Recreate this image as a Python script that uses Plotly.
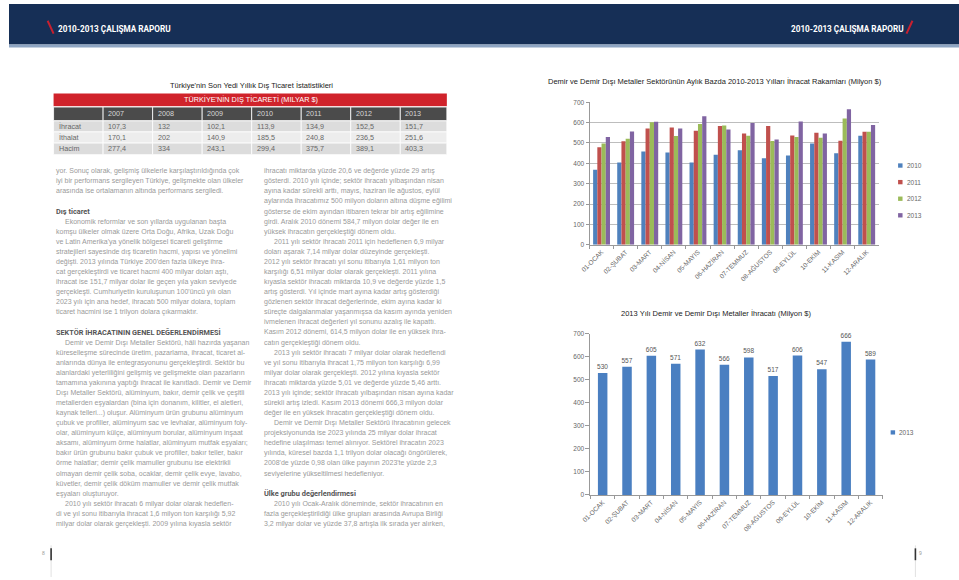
import plotly.graph_objects as go

W, H = 959, 580

# ---------------- data ----------------
months = ["01-OCAK", "02-ŞUBAT", "03-MART", "04-NİSAN", "05-MAYIS", "06-HAZİRAN",
          "07-TEMMUZ", "08-AĞUSTOS", "09-EYLÜL", "10-EKİM", "11-KASIM", "12-ARALIK"]
exp2010 = [368, 404, 458, 453, 404, 442, 464, 425, 438, 498, 450, 536]
exp2011 = [479, 508, 571, 576, 560, 583, 547, 583, 537, 550, 511, 555]
exp2012 = [498, 521, 602, 534, 593, 586, 536, 510, 529, 526, 620, 555]
exp2013 = [530, 557, 605, 571, 632, 566, 598, 517, 606, 547, 666, 589]
series_names = ["2010", "2011", "2012", "2013"]
yticks = [0, 100, 200, 300, 400, 500, 600, 700]

table_years = ["2007", "2008", "2009", "2010", "2011", "2012", "2013"]
table_rows = ["İhracat", "İthalat", "Hacim"]
ihracat = ["107,3", "132", "102,1", "113,9", "134,9", "152,5", "151,7"]
ithalat = ["170,1", "202", "140,9", "185,5", "240,8", "236,5", "251,6"]
hacim = ["277,4", "334", "243,1", "299,4", "375,7", "389,1", "403,3"]

left_text = [
    ("t", "yor. Sonuç olarak, gelişmiş ülkelerle karşılaştırıldığında çok"),
    ("t", "iyi bir performans sergileyen Türkiye, gelişmekte olan ülkeler"),
    ("t", "arasında ise ortalamanın altında performans sergiledi."),
    ("b", ""),
    ("h", "Dış ticaret"),
    ("i", "Ekonomik reformlar ve son yıllarda uygulanan başta"),
    ("t", "komşu ülkeler olmak üzere Orta Doğu, Afrika, Uzak Doğu"),
    ("t", "ve Latin Amerika'ya yönelik bölgesel ticareti geliştirme"),
    ("t", "stratejileri sayesinde dış ticaretin hacmi, yapısı ve yönelimi"),
    ("t", "değişti. 2013 yılında Türkiye 200'den fazla ülkeye ihra-"),
    ("t", "cat gerçekleştirdi ve ticaret hacmi 400 milyar doları aştı,"),
    ("t", "ihracat ise 151,7 milyar dolar ile geçen yıla yakın seviyede"),
    ("t", "gerçekleşti. Cumhuriyetin kuruluşunun 100'üncü yılı olan"),
    ("t", "2023 yılı için ana hedef, ihracatı 500 milyar dolara, toplam"),
    ("t", "ticaret hacmini ise 1 trilyon dolara çıkarmaktır."),
    ("b", ""),
    ("H", "SEKTÖR İHRACATININ GENEL DEĞERLENDİRMESİ"),
    ("i", "Demir ve Demir Dışı Metaller Sektörü, hâli hazırda yaşanan"),
    ("t", "küreselleşme sürecinde üretim, pazarlama, ihracat, ticaret al-"),
    ("t", "anlarında dünya ile entegrasyonunu gerçekleştirdi. Sektör bu"),
    ("t", "alanlardaki yeterliliğini gelişmiş ve gelişmekte olan pazarların"),
    ("t", "tamamına yakınına yaptığı ihracat ile kanıtladı. Demir ve Demir"),
    ("t", "Dışı Metaller Sektörü, alüminyum, bakır, demir çelik ve çeşitli"),
    ("t", "metallerden eşyalardan (bina için donanım, kilitler, el aletleri,"),
    ("t", "kaynak telleri...) oluşur. Alüminyum ürün grubunu alüminyum"),
    ("t", "çubuk ve profiller, alüminyum sac ve levhalar, alüminyum foly-"),
    ("t", "olar, alüminyum külçe, alüminyum borular, alüminyum inşaat"),
    ("t", "aksamı, alüminyum örme halatlar, alüminyum mutfak eşyaları;"),
    ("t", "bakır ürün grubunu bakır çubuk ve profiller, bakır teller, bakır"),
    ("t", "örme halatlar; demir çelik mamuller grubunu ise elektrikli"),
    ("t", "olmayan demir çelik soba, ocaklar, demir çelik evye, lavabo,"),
    ("t", "küvetler, demir çelik döküm mamuller ve demir çelik mutfak"),
    ("t", "eşyaları oluşturuyor."),
    ("i", "2010 yılı sektör ihracatı 6 milyar dolar olarak hedeflen-"),
    ("t", "di ve yıl sonu itibarıyla ihracat 1,6 milyon ton karşılığı 5,92"),
    ("t", "milyar dolar olarak gerçekleşti. 2009 yılına kıyasla sektör"),
]

mid_text = [
    ("t", "ihracatı miktarda yüzde 20,6 ve değerde yüzde 29 artış"),
    ("t", "gösterdi. 2010 yılı içinde; sektör ihracatı yılbaşından nisan"),
    ("t", "ayına kadar sürekli arttı, mayıs, haziran ile ağustos, eylül"),
    ("t", "aylarında ihracatımız 500 milyon doların altına düşme eğilimi"),
    ("t", "gösterse de ekim ayından itibaren tekrar bir artış eğilimine"),
    ("t", "girdi. Aralık 2010 dönemi 584,7 milyon dolar değer ile en"),
    ("t", "yüksek ihracatın gerçekleştiği dönem oldu."),
    ("i", "2011 yılı sektör ihracatı 2011 için hedeflenen 6,9 milyar"),
    ("t", "doları aşarak 7,14 milyar dolar düzeyinde gerçekleşti."),
    ("t", "2012 yılı sektör ihracatı yıl sonu itibarıyla 1,61 milyon ton"),
    ("t", "karşılığı 6,51 milyar dolar olarak gerçekleşti. 2011 yılına"),
    ("t", "kıyasla sektör ihracatı miktarda 10,9 ve değerde yüzde 1,5"),
    ("t", "artış gösterdi. Yıl içinde mart ayına kadar artış gösterdiği"),
    ("t", "gözlenen sektör ihracat değerlerinde, ekim ayına kadar ki"),
    ("t", "süreçte dalgalanmalar yaşanmışsa da kasım ayında yeniden"),
    ("t", "ivmelenen ihracat değerleri yıl sonunu azalış ile kapattı."),
    ("t", "Kasım 2012 dönemi, 614,5 milyon dolar ile en yüksek ihra-"),
    ("t", "catın gerçekleştiği dönem oldu."),
    ("i", "2013 yılı sektör ihracatı 7 milyar dolar olarak hedeflendi"),
    ("t", "ve yıl sonu itibarıyla ihracat 1,75 milyon ton karşılığı 6,99"),
    ("t", "milyar dolar olarak gerçekleşti. 2012 yılına kıyasla sektör"),
    ("t", "ihracatı miktarda yüzde 5,01 ve değerde yüzde 5,46 arttı."),
    ("t", "2013 yılı içinde; sektör ihracatı yılbaşından nisan ayına kadar"),
    ("t", "sürekli artış izledi. Kasım 2013 dönemi 666,3 milyon dolar"),
    ("t", "değer ile en yüksek ihracatın gerçekleştiği dönem oldu."),
    ("i", "Demir ve Demir Dışı Metaller Sektörü ihracatının gelecek"),
    ("t", "projeksiyonunda ise 2023 yılında 25 milyar dolar ihracat"),
    ("t", "hedefine ulaşılması temel alınıyor. Sektörel ihracatın 2023"),
    ("t", "yılında, küresel bazda 1,1 trilyon dolar olacağı öngörülerek,"),
    ("t", "2008'de yüzde 0,98 olan ülke payının 2023'te yüzde 2,3"),
    ("t", "seviyelerine yükseltilmesi hedefleniyor."),
    ("b", ""),
    ("h", "Ülke grubu değerlendirmesi"),
    ("i", "2010 yılı Ocak-Aralık döneminde, sektör ihracatının en"),
    ("t", "fazla gerçekleştirildiği ülke grupları arasında Avrupa Birliği"),
    ("t", "3,2 milyar dolar ve yüzde 37,8 artışla ilk sırada yer alırken,"),
]

# ---------------- styles ----------------
COLORS = ["#4F81BD", "#C0504D", "#9BBB59", "#8064A2"]
BAR2013 = "#4A7FC1"
BODY_FONT = "Liberation Sans, Arial, sans-serif"
COND_FONT = "Roboto, Liberation Sans, sans-serif"
TXT_GRAY = "#9a9a9a"
AX_GRAY = "#666666"


def fx(p):
    return p / W


def fy(p):
    return 1 - p / H


fig = go.Figure()

# top grouped bar chart
for name, vals, col in zip(series_names, [exp2010, exp2011, exp2012, exp2013], COLORS):
    fig.add_trace(go.Bar(x=months, y=vals, name=name, marker_color=col,
                         marker_line_width=0, showlegend=False,
                         xaxis="x", yaxis="y"))

# bottom 2013 bar chart
fig.add_trace(go.Bar(x=months, y=exp2013, name="2013", marker_color=BAR2013,
                     marker_line_width=0, showlegend=False,
                     text=[str(v) for v in exp2013], textposition="outside",
                     constraintext="none", cliponaxis=False,
                     textfont=dict(size=6.5, color="#555555", family=BODY_FONT),
                     xaxis="x2", yaxis="y2", width=0.39))

tickfont = dict(size=6.5, color=AX_GRAY, family=BODY_FONT)

shapes = []
annotations = []

# header band
shapes.append(dict(type="rect", xref="paper", yref="paper", x0=0, x1=1,
                   y0=fy(41), y1=1, fillcolor="#162f56", line_width=0, layer="below"))
shapes.append(dict(type="rect", xref="paper", yref="paper", x0=0, x1=1,
                   y0=fy(44), y1=fy(41), fillcolor="#8ea5c3", line_width=0, layer="below"))
shapes.append(dict(type="line", xref="paper", yref="paper", x0=fx(39), x1=fx(45),
                   y0=fy(17), y1=fy(30), line=dict(color="#c8202f", width=2)))
shapes.append(dict(type="line", xref="paper", yref="paper", x0=fx(906), x1=fx(912),
                   y0=fy(30), y1=fy(17), line=dict(color="#c8202f", width=2)))
annotations.append(dict(x=fx(47), y=fy(25), xref="paper", yref="paper", xanchor="left",
                        yanchor="middle", showarrow=False,
                        text="<b>2010-2013 ÇALIŞMA RAPORU</b>",
                        font=dict(size=8.2, color="white", family=COND_FONT)))
annotations.append(dict(x=fx(905), y=fy(25), xref="paper", yref="paper", xanchor="right",
                        yanchor="middle", showarrow=False,
                        text="<b>2010-2013 ÇALIŞMA RAPORU</b>",
                        font=dict(size=8.2, color="white", family=COND_FONT)))

# table
annotations.append(dict(x=fx(245), y=fy(82), xref="paper", yref="paper", xanchor="center",
                        yanchor="middle", showarrow=False,
                        text="Türkiye'nin Son Yedi Yıllık Dış Ticaret İstatistikleri",
                        font=dict(size=7.5, color="#222222", family=BODY_FONT)))
shapes.append(dict(type="rect", xref="paper", yref="paper", x0=fx(45), x1=fx(442),
                   y0=fy(103.5), y1=fy(90.5), fillcolor="#d0232b", line_width=0))
annotations.append(dict(x=fx(244), y=fy(97), xref="paper", yref="paper", xanchor="center",
                        yanchor="middle", showarrow=False,
                        text="TÜRKİYE'NİN DIŞ TİCARETİ (MILYAR $)",
                        font=dict(size=7.3, color="white", family=BODY_FONT)))
col_edges = [45, 95, 145, 195, 245, 295, 345, 395, 442]
row_edges = [104.3, 118.3, 129.5, 140.8, 152.5]
row_fills = ["#4b4b4b", "#dcdcdc", "#ededed", "#dcdcdc"]
row_cells = [[""] + table_years,
             [table_rows[0]] + ihracat,
             [table_rows[1]] + ithalat,
             [table_rows[2]] + hacim]
for r in range(4):
    for c in range(8):
        shapes.append(dict(type="rect", xref="paper", yref="paper",
                           x0=fx(col_edges[c]), x1=fx(col_edges[c + 1]),
                           y0=fy(row_edges[r + 1]), y1=fy(row_edges[r]),
                           fillcolor=row_fills[r], line=dict(color="white", width=0.8)))
        txt = row_cells[r][c]
        if txt:
            annotations.append(dict(x=fx(col_edges[c] + 3), y=fy((row_edges[r] + row_edges[r + 1]) / 2),
                                    xref="paper", yref="paper", xanchor="left", yanchor="middle",
                                    showarrow=False, text=txt,
                                    font=dict(size=7.2, color="#d8d8d8" if r == 0 else "#666666",
                                              family=BODY_FONT)))


# text columns
def add_column(lines, x0, y0, step=10.2):
    for i, (kind, txt) in enumerate(lines):
        y = y0 + i * step
        if kind == "b":
            continue
        if kind == "h":
            font = dict(size=7.4, color="#555555", family=COND_FONT)
            t = "<b>" + txt + "</b>"
            x = x0
        elif kind == "H":
            font = dict(size=7.3, color="#555555", family=COND_FONT)
            t = "<b>" + txt + "</b>"
            x = x0
        else:
            font = dict(size=7.0, color=TXT_GRAY, family=BODY_FONT)
            t = txt
            x = x0 + (10 if kind == "i" else 0)
        annotations.append(dict(x=fx(x), y=fy(y), xref="paper", yref="paper",
                                xanchor="left", yanchor="middle", showarrow=False,
                                text=t, font=font))


add_column(left_text, 45, 169.3)
add_column(mid_text, 255, 169.3)

# page numbers
annotations.append(dict(x=fx(38), y=fy(556), xref="paper", yref="paper", xanchor="right",
                        yanchor="middle", showarrow=False, text="8",
                        font=dict(size=5, color="#999999", family=BODY_FONT)))
shapes.append(dict(type="line", xref="paper", yref="paper", x0=fx(42.5), x1=fx(42.5),
                   y0=0, y1=fy(548), line=dict(color="#cccccc", width=0.6)))
shapes.append(dict(type="line", xref="paper", yref="paper", x0=fx(42.5), x1=fx(42.5),
                   y0=fy(563), y1=fy(551), line=dict(color="#333333", width=1.6)))
annotations.append(dict(x=fx(917), y=fy(556), xref="paper", yref="paper", xanchor="left",
                        yanchor="middle", showarrow=False, text="9",
                        font=dict(size=5, color="#999999", family=BODY_FONT)))
shapes.append(dict(type="line", xref="paper", yref="paper", x0=fx(915), x1=fx(915),
                   y0=0, y1=fy(548), line=dict(color="#cccccc", width=0.6)))
shapes.append(dict(type="line", xref="paper", yref="paper", x0=fx(915), x1=fx(915),
                   y0=fy(563), y1=fy(551), line=dict(color="#333333", width=1.6)))

# chart titles
annotations.append(dict(x=fx(713), y=fy(78), xref="paper", yref="paper", xanchor="center",
                        yanchor="middle", showarrow=False,
                        text="Demir ve Demir Dışı Metaller Sektörünün Aylık Bazda 2010-2013 Yılları İhracat Rakamları (Milyon $)",
                        font=dict(size=7.5, color="#222222", family=BODY_FONT)))
annotations.append(dict(x=fx(714), y=fy(313), xref="paper", yref="paper", xanchor="center",
                        yanchor="middle", showarrow=False,
                        text="2013 Yılı Demir ve Demir Dışı Metaller İhracatı (Milyon $)",
                        font=dict(size=7.5, color="#222222", family=BODY_FONT)))

# legends
for i, (name, col) in enumerate(zip(series_names, COLORS)):
    yc = 163.5 + i * 16.8
    shapes.append(dict(type="rect", xref="paper", yref="paper", x0=fx(897.5), x1=fx(902),
                       y0=fy(yc + 2.2), y1=fy(yc - 2.2), fillcolor=col, line_width=0))
    annotations.append(dict(x=fx(904.5), y=fy(yc), xref="paper", yref="paper", xanchor="left",
                            yanchor="middle", showarrow=False, text=name,
                            font=dict(size=6.5, color=AX_GRAY, family=BODY_FONT)))
shapes.append(dict(type="rect", xref="paper", yref="paper", x0=fx(890), x1=fx(894.5),
                   y0=fy(435.8), y1=fy(431.5), fillcolor=BAR2013, line_width=0))
annotations.append(dict(x=fx(896.5), y=fy(433.6), xref="paper", yref="paper", xanchor="left",
                        yanchor="middle", showarrow=False, text="2013",
                        font=dict(size=6.5, color=AX_GRAY, family=BODY_FONT)))

fig.update_layout(
    width=W, height=H, autosize=False,
    margin=dict(l=0, r=0, t=0, b=0),
    paper_bgcolor="white", plot_bgcolor="rgba(0,0,0,0)",
    barmode="group", bargap=0.3, bargroupgap=0,
    showlegend=False,
    shapes=shapes, annotations=annotations,
    xaxis=dict(domain=[fx(586), fx(878)], anchor="y", type="category",
               tickangle=-45, tickfont=tickfont, ticks="outside", tickson="boundaries",
               ticklen=3, tickcolor="#999999", showline=True, linecolor="#999999",
               linewidth=1, showgrid=False, fixedrange=True),
    yaxis=dict(domain=[fy(243.7), fy(99.5)], anchor="x", range=[0, 700],
               tickvals=yticks, tickfont=tickfont, ticks="outside", ticklen=3,
               tickcolor="#999999", showline=True, linecolor="#999999", linewidth=1,
               showgrid=True, gridcolor="#bdbdbd", gridwidth=1, zeroline=False),
    xaxis2=dict(domain=[fx(587), fx(882)], anchor="y2", type="category",
                tickangle=-45, tickfont=tickfont, ticks="outside", tickson="boundaries",
                ticklen=3, tickcolor="#999999", showline=True, linecolor="#999999",
                linewidth=1, showgrid=False),
    yaxis2=dict(domain=[fy(497), fy(334)], anchor="x2", range=[0, 700],
                tickvals=yticks, tickfont=tickfont, ticks="outside", ticklen=4,
                tickcolor="#999999", showline=True, linecolor="#999999", linewidth=1,
                showgrid=False, zeroline=False),
)

fig.write_html("out.html", config={"displayModeBar": False},
               post_script="document.body.style.margin='0';document.body.style.overflow='hidden';")
